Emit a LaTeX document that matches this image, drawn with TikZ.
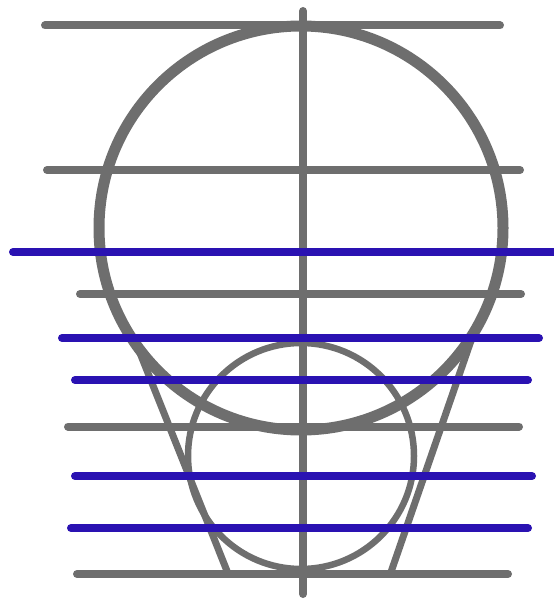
\documentclass[tikz,border=0pt]{standalone}
\definecolor{guide}{RGB}{110,110,110}
\definecolor{bluel}{RGB}{42,18,178}
\tikzset{
  grayline/.style={draw=guide, line width=8pt, line cap=round},
  blueline/.style={draw=bluel, line width=8pt, line cap=round},
  bigcirc/.style={draw=guide, line width=11pt},
  smallcirc/.style={draw=guide, line width=6.5pt},
  sideline/.style={draw=guide, line width=7pt, line cap=butt}
}
\begin{document}
\begin{tikzpicture}[x=1pt,y=-1pt]
\useasboundingbox (0,0) rectangle (553,601);
% horizontal gray guides
\draw[grayline] (45,25.5) -- (500,25.5);
\draw[grayline] (47,170) -- (520,170);
\draw[grayline] (80,294) -- (521,294);
\draw[grayline] (68,426.5) -- (519,426.5);
\draw[grayline] (77,574) -- (508,574);
% vertical axis
\draw[grayline] (303,11) -- (303,594);
% circles
\draw[bigcirc] (301,228) circle (202);
\draw[smallcirc] (301,456) circle (113);
% side lines
\coordinate (lt) at (134,338);
\coordinate (lb) at (227,571);
\coordinate (rt) at (474,332);
\coordinate (rb) at (391,572);
\draw[sideline] (lt) -- (lb);
\draw[sideline] (rt) -- (rb);
% blue lines
\draw[blueline] (13,252) -- (560,252);
\draw[blueline] (62,338) -- (539,338);
\draw[blueline] (75,380) -- (528,380);
\draw[blueline] (75,476) -- (532,476);
\draw[blueline] (71,528) -- (528,528);
\end{tikzpicture}
\end{document}
